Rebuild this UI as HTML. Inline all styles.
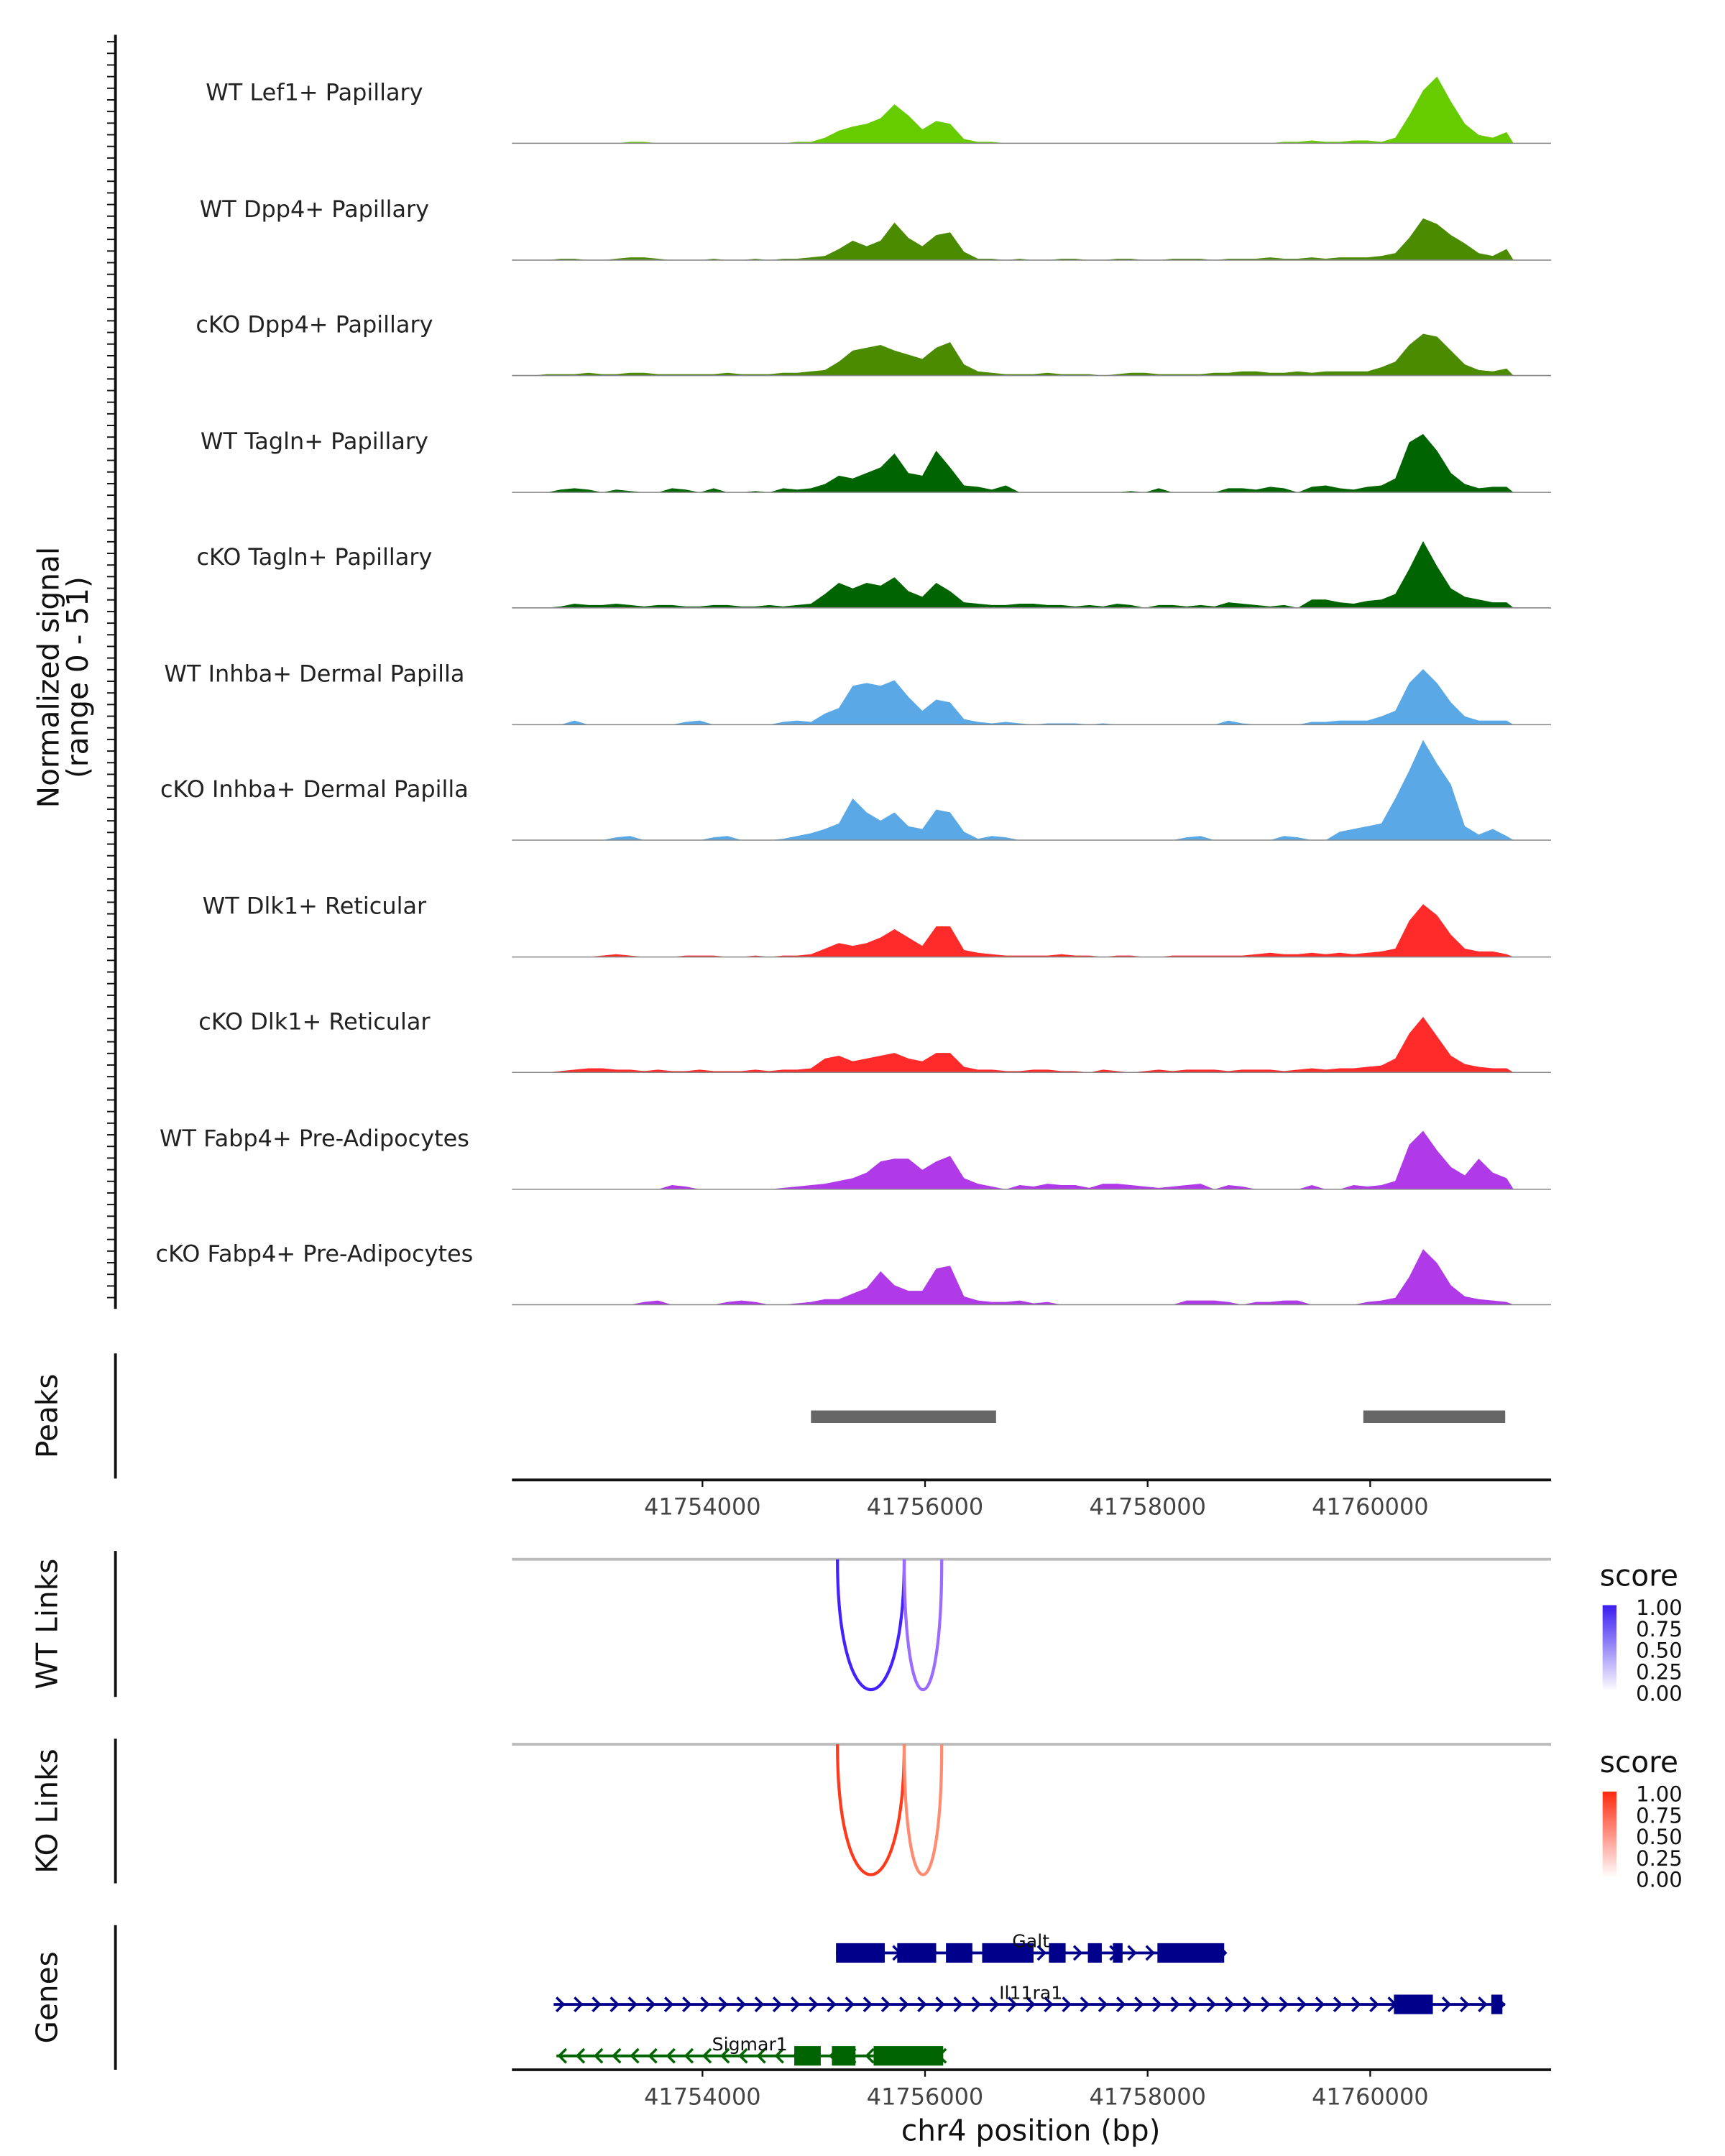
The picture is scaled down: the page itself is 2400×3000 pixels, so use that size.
<!DOCTYPE html>
<html><head><meta charset="utf-8"><style>
html,body{margin:0;padding:0;background:#fff;}
svg{display:block;font-family:"DejaVu Sans","Liberation Sans",sans-serif;}
</style></head><body>
<svg id="chart" xmlns="http://www.w3.org/2000/svg" width="2400" height="3000" viewBox="0 0 1240 1550">
<defs>
<linearGradient id="gBlue" x1="0" y1="0" x2="0" y2="1"><stop offset="0" stop-color="#3a1cf0"/><stop offset="1" stop-color="#ffffff"/></linearGradient>
<linearGradient id="gRed" x1="0" y1="0" x2="0" y2="1"><stop offset="0" stop-color="#ff2a10"/><stop offset="1" stop-color="#ffffff"/></linearGradient>
<clipPath id="cWT"><rect x="368" y="1121" width="750" height="110"/></clipPath>
<clipPath id="cKO"><rect x="368" y="1254" width="750" height="110"/></clipPath>
</defs>
<g id="tracks"></g>
<g id="misc"></g>
</svg>
<script>
const NS="http://www.w3.org/2000/svg";
const binStart=41752288, binSize=125;
const trackNames=["WT Lef1+ Papillary","WT Dpp4+ Papillary","cKO Dpp4+ Papillary","WT Tagln+ Papillary","cKO Tagln+ Papillary","WT Inhba+ Dermal Papilla","cKO Inhba+ Dermal Papilla","WT Dlk1+ Reticular","cKO Dlk1+ Reticular","WT Fabp4+ Pre-Adipocytes","cKO Fabp4+ Pre-Adipocytes"];
const trackColors=["#66cc00","#4b8b00","#4b8b00","#006400","#006400","#5aa9e6","#5aa9e6","#ff2a2a","#ff2a2a","#b03ae8","#b03ae8"];
const sigLef1=[0,0,0,0,0,0,0,0,1,1,0,0, 0,0,0,0,0,0,0,0,1,1,4,9, 12,14,18,28,20,10,16,14,3,1,1,0, 0,0,0,0,0,0,0,0,0,0,0,0, 0,0,0,0,0,0,0,1,1,2,1,1, 2,2,1,4,20,38,48,30,14,6,4,8];
const sigDpp4WT=[0,0,0,1,1,0,0,1,2,2,1,0, 0,0,1,0,0,1,0,1,1,2,3,8, 14,10,14,27,16,10,18,20,6,1,1,0, 1,0,0,1,1,0,0,1,1,0,0,1, 1,1,0,1,1,1,2,1,1,2,1,2, 2,2,3,5,16,30,26,18,12,5,3,8];
const sigDpp4KO=[0,0,1,1,1,2,1,1,2,2,1,1, 1,1,1,2,1,1,1,2,2,3,4,10, 18,20,22,18,15,12,20,24,8,3,2,1, 1,1,2,1,1,1,0,1,2,2,1,1, 1,1,2,2,3,3,2,2,3,2,3,3, 3,3,6,10,22,30,28,18,8,4,3,5];
const sigTaglnWT=[0,0,0,2,3,2,0,2,1,0,0,3, 2,0,3,0,0,1,0,3,2,3,6,12, 10,14,18,28,14,12,30,18,5,4,2,5, 0,0,0,0,0,0,0,0,1,0,3,0, 0,0,0,3,3,2,4,3,0,4,5,3, 2,4,5,10,36,42,30,14,6,3,4,4];
const sigTaglnKO=[0,0,0,1,3,2,2,3,2,1,2,2, 1,1,2,2,1,1,2,1,2,3,10,18, 14,18,16,22,12,8,18,12,4,3,2,2, 3,3,2,2,1,2,1,3,2,0,2,2, 1,2,1,4,3,2,1,2,0,6,6,4, 3,5,6,10,28,48,30,14,8,6,4,4];
const sigInhbaWT=[0,0,0,0,3,0,0,0,0,0,0,0, 2,3,0,0,0,0,0,2,3,2,8,12, 28,30,28,32,20,10,18,16,4,2,1,2, 1,0,1,1,1,0,1,0,0,0,0,0, 0,0,0,3,1,0,0,0,0,2,2,3, 3,3,6,10,30,40,30,16,6,3,3,3];
const sigInhbaKO=[0,0,0,0,0,0,0,2,3,0,0,0, 0,0,2,3,0,0,0,1,3,5,8,12, 30,20,14,20,10,8,22,20,6,1,3,2, 0,0,0,0,0,0,0,0,0,0,0,0, 2,3,0,0,0,0,0,3,2,0,0,6, 8,10,12,30,50,72,55,40,10,4,8,3];
const sigDlk1WT=[0,0,0,0,0,0,1,2,1,0,0,0, 1,1,1,0,0,1,0,1,1,2,6,10, 8,10,14,20,14,8,22,22,5,3,2,1, 1,1,1,2,1,1,0,1,1,0,0,1, 1,1,1,1,1,2,3,2,2,3,2,3, 2,3,4,6,26,38,30,16,6,4,4,2];
const sigDlk1KO=[0,0,0,1,2,3,3,2,2,1,2,1, 1,2,1,1,1,2,1,2,2,3,10,12, 8,10,12,14,10,8,14,14,4,2,2,1, 1,2,2,1,1,0,2,1,0,1,2,1, 2,2,2,1,2,2,2,1,2,3,2,3, 3,4,5,10,28,40,26,12,6,4,3,3];
const sigFabp4WT=[0,0,0,0,0,0,0,0,0,0,0,3, 2,0,0,0,0,0,0,1,2,3,4,6, 8,12,20,22,22,14,20,24,8,4,2,0, 3,2,4,3,3,1,4,4,3,2,1,2, 3,4,0,3,2,0,0,0,0,3,0,0, 3,2,3,6,32,42,28,16,10,22,12,8];
const sigFabp4KO=[0,0,0,0,0,0,0,0,0,2,3,0, 0,0,0,2,3,2,0,0,1,2,4,4, 8,12,24,14,10,10,26,28,6,3,2,2, 3,1,2,0,0,0,0,0,0,0,0,0, 3,3,3,2,0,2,2,3,3,0,0,0, 0,2,3,5,20,40,30,14,6,4,3,2];
const signals=[sigLef1,sigDpp4WT,sigDpp4KO,sigTaglnWT,sigTaglnKO,sigInhbaWT,sigInhbaKO,sigDlk1WT,sigDlk1KO,sigFabp4WT,sigFabp4KO];
const peakStarts=[41754975,41759938];
const peakEnds=[41756638,41761213];
const tickValues=[41754000,41756000,41758000,41760000];
const tickLabels=["41754000","41756000","41758000","41760000"];
const wtLinkStarts=[41755213,41755813];
const wtLinkEnds=[41755813,41756150];
const wtLinkScores=[0.95,0.6];
const koLinkStarts=[41755213,41755813];
const koLinkEnds=[41755813,41756150];
const koLinkScores=[0.95,0.6];
const galtExonStarts=[41755200,41755750,41756188,41756513,41757113,41757463,41757688,41758088];
const galtExonEnds=[41755638,41756100,41756425,41756975,41757263,41757588,41757775,41758688];
const il11ExonStarts=[41760213,41761088];
const il11ExonEnds=[41760563,41761188];
const sigmarExonStarts=[41754825,41755163,41755538];
const sigmarExonEnds=[41755063,41755375,41756163];

const X0=368, PXBP=0.08;
function xs(bp){return X0+(bp-41752288)*PXBP;}
const yMax=75, trackPx=75;
function ys(v,base){return base-v/yMax*trackPx;}
function el(tag,attrs,parent,text){const e=document.createElementNS(NS,tag);for(const k in attrs)e.setAttribute(k,attrs[k]);if(text!==undefined)e.textContent=text;parent.appendChild(e);return e;}
const T=document.getElementById('tracks'), M=document.getElementById('misc');
const baselines=[103,187,270,354,437,521,604,688,771,855,938];

signals.forEach((arr,t)=>{
  const base=baselines[t];
  let d="M"+xs(binStart)+","+base;
  arr.forEach((v,i)=>{d+=" L"+xs(binStart+(i+0.5)*binSize).toFixed(1)+","+ys(v,base).toFixed(1);});
  d+=" L"+xs(binStart+arr.length*binSize)+","+base+" Z";
  const p=el('path',{d:d,fill:trackColors[t]},T);
  
  
  const bl=el('line',{x1:368,x2:1115,y1:base,y2:base,stroke:'#888','stroke-width':0.8},T);
  
  
  const lb=el('text',{x:226,y:base-31,'text-anchor':'middle','font-size':16.5,fill:'#222'},T,trackNames[t]);
  
  
});
const ax=el('line',{x1:83,x2:83,y1:25,y2:941,stroke:'#111','stroke-width':2},M);


for(let y=30;y<=940;y+=8.36){const tk=el('line',{x1:77,x2:83,y1:y,y2:y,stroke:'#111','stroke-width':1},M);

}
const yt=el('text',{transform:'translate(42,487) rotate(-90)','text-anchor':'middle','font-size':21,fill:'#111'},M);


el('tspan',{x:0,dy:0},yt,'Normalized signal');
el('tspan',{x:0,dy:21},yt,'(range 0 - 51)');

function sideLabel(txt,y1,y2,name){
  const l=el('line',{x1:83,x2:83,y1:y1,y2:y2,stroke:'#111','stroke-width':2},M);
  
  
  const t=el('text',{transform:'translate(41,'+((y1+y2)/2)+') rotate(-90)','text-anchor':'middle','font-size':21,fill:'#111'},M,txt);
  
  
}
sideLabel('Peaks',973,1063,'peaks');
sideLabel('WT Links',1115,1220,'wt-links');
sideLabel('KO Links',1250,1354,'ko-links');
sideLabel('Genes',1384,1488,'genes');

peakStarts.forEach((s,i)=>{const r=el('rect',{x:xs(s),y:1014,width:xs(peakEnds[i])-xs(s),height:9,fill:'#666'},M);

});

function xAxis(y,name){
  const l=el('line',{x1:368,x2:1115,y1:y,y2:y,stroke:'#111','stroke-width':2},M);
  
  
  tickValues.forEach((v,i)=>{
    const tk=el('line',{x1:xs(v),x2:xs(v),y1:y,y2:y+5,stroke:'#111','stroke-width':1.2},M);
    
    
    const tl=el('text',{x:xs(v),y:y+25,'text-anchor':'middle','font-size':16.5,fill:'#444'},M,tickLabels[i]);
    
    
  });
}
xAxis(1064,'peaks-x-axis');
xAxis(1488,'genes-x-axis');
const xt=el('text',{x:741,y:1539,'text-anchor':'middle','font-size':21,fill:'#111'},M,'chr4 position (bp)');



function links(top,starts,ends,scores,c1,c2,clip,name){
  const g=el('line',{x1:368,x2:1115,y1:top,y2:top,stroke:'#bbb','stroke-width':2},M);
  
  
  const grp=el('g',{'clip-path':'url(#'+clip+')'},M);
  starts.forEach((s,i)=>{
    const a=xs(s),b=xs(ends[i]),depth=125;
    const d="M"+a+","+top+" C"+a+","+(top+depth)+" "+b+","+(top+depth)+" "+b+","+top;
    const p=el('path',{d:d,fill:'none',stroke:scores[i]>0.8?c1:c2,'stroke-width':2.2},grp);
    
    
  });
}
links(1121,wtLinkStarts,wtLinkEnds,wtLinkScores,'#4422ff','#9b6cff','cWT','wt-link');
links(1254,koLinkStarts,koLinkEnds,koLinkScores,'#ff3a1a','#ff8c70','cKO','ko-link');

function legend(y,grad,name){
  const t=el('text',{x:1150,y:y,'font-size':21,fill:'#111'},M,'score');
  
  
  const r=el('rect',{x:1152,y:y+14,width:10,height:62,fill:'url(#'+grad+')'},M);
  
  
  ["1.00","0.75","0.50","0.25","0.00"].forEach((s,i)=>{
    const l=el('text',{x:1176,y:y+21+i*15.4,'font-size':15,fill:'#111'},M,s);
    
    
  });
}
legend(1140,'gBlue','wt-score-legend');
legend(1274,'gRed','ko-score-legend');

function gene(y,start,end,exS,exE,color,dir,label,lx,name){
  const l=el('line',{x1:xs(start),x2:xs(end),y1:y,y2:y,stroke:color,'stroke-width':2},M);
  
  
  for(let x=xs(start)+2;x<xs(end);x+=13){
    const d=dir>0?"M"+x+","+(y-5)+" L"+(x+5)+","+y+" L"+x+","+(y+5):"M"+(x+5)+","+(y-5)+" L"+x+","+y+" L"+(x+5)+","+(y+5);
    const a=el('path',{d:d,fill:'none',stroke:color,'stroke-width':1.8},M);
    
    
  }
  exS.forEach((s,i)=>{const r=el('rect',{x:xs(s),y:y-7,width:xs(exE[i])-xs(s),height:14,fill:color},M);
  
  });
  const t=el('text',{x:lx,y:y-4,'text-anchor':'middle','font-size':13,fill:'#111'},M,label);
  
  
}
gene(1404,41755200,41758688,galtExonStarts,galtExonEnds,'#00008b',1,'Galt',741,'galt');
gene(1441,41752663,41761213,il11ExonStarts,il11ExonEnds,'#00008b',1,'Il11ra1',741,'il11ra1');
gene(1478,41752688,41756163,sigmarExonStarts,sigmarExonEnds,'#006400',-1,'Sigmar1',539,'sigmar1');
</script>
</body></html>
